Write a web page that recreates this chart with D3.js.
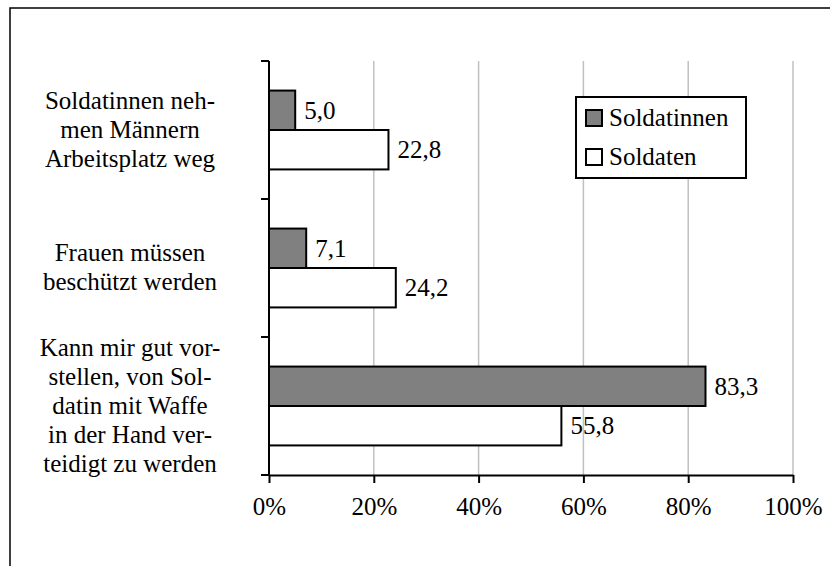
<!DOCTYPE html>
<html>
<head>
<meta charset="utf-8">
<script src="https://cdn.jsdelivr.net/npm/d3@7"></script>
<style>
  html, body { margin: 0; padding: 0; background: #fff; }
</style>
</head>
<body>
<div id="chart"></div>
<script>
const width = 830,
      height = 566,
      fontSize = 25,
      serif = '"Liberation Serif", "Times New Roman", Tinos, "Nimbus Roman", "Noto Serif", "DejaVu Serif", FreeSerif, serif';

// category labels, one entry per line
const categories = [
  ["Soldatinnen neh-", "men Männern", "Arbeitsplatz weg"],
  ["Frauen müssen", "beschützt werden"],
  ["Kann mir gut vor-", "stellen, von Sol-", "datin mit Waffe", "in der Hand ver-", "teidigt zu werden"]
];
const soldatinnen = [5.0, 7.1, 83.3];
const soldaten = [22.8, 24.2, 55.8];
const xTicks = [0, 20, 40, 60, 80, 100];
const seriesNames = ["Soldatinnen", "Soldaten"];
const seriesFill = ["#808080", "#ffffff"];

const ids = categories.map((c, i) => i);

const x = d3.scaleLinear().domain([0, 100]).range([269, 793]);
const y = d3.scaleBand().domain(ids).range([61, 475]);
const barH = y.bandwidth() / 3.5;

const svg = d3.select("#chart")
  .append("svg")
  .attr("width", width)
  .attr("height", height)
  .style("font-family", serif);

svg.append("rect")
  .attr("width", width).attr("height", height)
  .style("fill", "#fff");

// outer frame (cut off on the right and bottom)
svg.append("rect")
  .attr("x", 10).attr("y", 8)
  .attr("width", width + 20).attr("height", height + 20)
  .style("fill", "none")
  .style("stroke", "#000")
  .style("stroke-width", 1.5);

// gridlines
svg.selectAll(".grid")
  .data(xTicks.filter(d => d > 0))
  .enter()
  .append("line")
  .attr("x1", d => x(d)).attr("x2", d => x(d))
  .attr("y1", y.range()[0]).attr("y2", y.range()[1])
  .style("stroke", "#c0c0c0")
  .style("stroke-width", 1.5);

// bars
const rows = [];
ids.forEach(i => {
  rows.push({ cat: i, s: 0, v: soldatinnen[i] });
  rows.push({ cat: i, s: 1, v: soldaten[i] });
});

const barY = d => y(d.cat) + y.bandwidth() / 2 - barH + d.s * barH;

svg.selectAll(".bar")
  .data(rows)
  .enter()
  .append("rect")
  .attr("x", x(0))
  .attr("y", barY)
  .attr("width", d => x(d.v) - x(0))
  .attr("height", barH)
  .style("fill", d => seriesFill[d.s])
  .style("stroke", "#000")
  .style("stroke-width", 2);

svg.selectAll(".val")
  .data(rows)
  .enter()
  .append("text")
  .attr("x", d => x(d.v) + 9)
  .attr("y", d => barY(d) + barH / 2 + fontSize * 0.33)
  .style("font-size", fontSize + "px")
  .text(d => d3.format(".1f")(d.v).replace(".", ","));

// x axis
const xAxis = svg.append("g")
  .attr("transform", `translate(0,${y.range()[1]})`)
  .call(d3.axisBottom(x).tickValues(xTicks).tickSize(8).tickSizeOuter(0).tickFormat(d => d + "%"));
xAxis.attr("font-family", null).attr("font-size", null);
xAxis.select(".domain").style("stroke", "#000").style("stroke-width", 2);
xAxis.selectAll(".tick line").style("stroke", "#000").style("stroke-width", 2);
xAxis.selectAll(".tick text")
  .attr("y", 40)
  .attr("dy", 0)
  .style("fill", "#000")
  .style("font-size", fontSize + "px");

// y axis
svg.append("line")
  .attr("x1", x(0)).attr("x2", x(0))
  .attr("y1", y.range()[0]).attr("y2", y.range()[1])
  .style("stroke", "#000").style("stroke-width", 2);
const yTicks = ids.map(i => y(i)).concat([y.range()[1]]);
svg.selectAll(".ytick")
  .data(yTicks)
  .enter()
  .append("line")
  .attr("x1", x(0) - 8).attr("x2", x(0))
  .attr("y1", d => d).attr("y2", d => d)
  .style("stroke", "#000").style("stroke-width", 2);

// category labels
const lh = 29;
svg.selectAll(".cat")
  .data(ids)
  .enter()
  .append("text")
  .attr("text-anchor", "middle")
  .style("font-size", fontSize + "px")
  .each(function(i) {
    const lines = categories[i];
    const cy = y(i) + y.bandwidth() / 2;
    d3.select(this).selectAll("tspan")
      .data(lines)
      .enter()
      .append("tspan")
      .attr("x", 130)
      .attr("y", (d, k) => cy + (k - (lines.length - 1) / 2) * lh + fontSize * 0.3)
      .text(d => d);
  });

// legend
const legend = svg.append("g");
legend.append("rect")
  .attr("x", 576).attr("y", 97)
  .attr("width", 170).attr("height", 81)
  .style("fill", "#fff")
  .style("stroke", "#000")
  .style("stroke-width", 2);
seriesNames.forEach((name, k) => {
  const cy = 118 + k * 39;
  legend.append("rect")
    .attr("x", 586).attr("y", cy - 8)
    .attr("width", 16).attr("height", 16)
    .style("fill", seriesFill[k])
    .style("stroke", "#000")
    .style("stroke-width", 2);
  legend.append("text")
    .attr("x", 609)
    .attr("y", cy + fontSize * 0.33)
    .style("font-size", fontSize + "px")
    .text(name);
});
</script>
</body>
</html>
